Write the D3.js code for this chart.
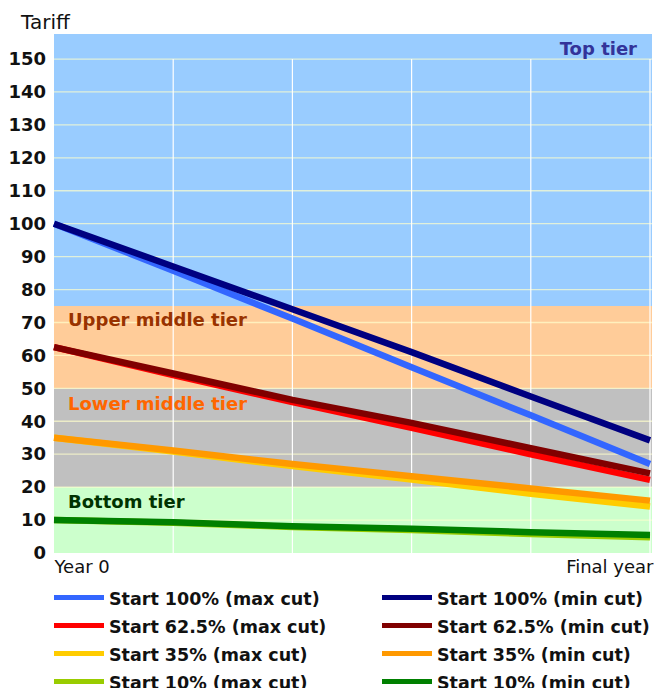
<!DOCTYPE html>
<html>
<head>
<meta charset="utf-8">
<script src="https://cdn.jsdelivr.net/npm/d3@7/dist/d3.min.js"></script>
<style>
  html, body { margin: 0; padding: 0; background: #fff; }
  svg { display: block; font-family: "DejaVu Sans", Verdana, sans-serif; }
</style>
</head>
<body>
<svg id="chart" width="654" height="688"></svg>
<script>
// ---- data ----
const steps = [0, 1, 2, 3, 4, 5];
const xLabels = ["Year 0", "Final year"];
const yTicks = [0, 10, 20, 30, 40, 50, 60, 70, 80, 90, 100, 110, 120, 130, 140, 150];
const yMax = 157.6;

const tierNames = ["Top tier", "Upper middle tier", "Lower middle tier", "Bottom tier"];
const tierLow = [75, 50, 20, 0];
const tierHigh = [yMax, 75, 50, 20];
const tierFill = ["#99CCFF", "#FFCC99", "#C0C0C0", "#CCFFCC"];
const tierTextColor = ["#333399", "#993300", "#FF6600", "#003300"];

const seriesNames = [
  "Start 100% (max cut)", "Start 100% (min cut)",
  "Start 62.5% (max cut)", "Start 62.5% (min cut)",
  "Start 35% (max cut)", "Start 35% (min cut)",
  "Start 10% (max cut)", "Start 10% (min cut)"
];
const seriesColors = [
  "#3366FF", "#000080",
  "#FF0000", "#800000",
  "#FFCC00", "#FF9900",
  "#99CC00", "#008000"
];
const start100Max = [100, 85.7, 71.2, 56.4, 41.8, 27.0];
const start100Min = [100, 87.0, 74.0, 61.0, 47.5, 34.2];
const start62Max  = [62.5, 54.0, 45.8, 38.0, 30.0, 22.2];
const start62Min  = [62.5, 54.5, 46.5, 39.5, 31.8, 24.2];
const start35Max  = [35, 30.8, 26.4, 22.3, 18.0, 14.1];
const start35Min  = [35, 31.1, 27.0, 23.3, 19.6, 15.9];
const start10Max  = [10, 9.2, 7.9, 7.0, 5.8, 4.8];
const start10Min  = [10, 9.3, 8.1, 7.4, 6.3, 5.5];
const seriesValues = [start100Max, start100Min, start62Max, start62Min,
                      start35Max, start35Min, start10Max, start10Min];

// ---- layout ----
const plotLeft = 54, plotRight = 652, plotTop = 34, plotBottom = 553;
const svg = d3.select("#chart");

const x = d3.scaleLinear().domain([0, 5]).range([plotLeft, 650]);
const y = d3.scaleLinear().domain([0, yMax]).range([plotBottom, plotTop]);

// bands
svg.append("g").selectAll("rect").data(tierNames).join("rect")
  .attr("x", plotLeft)
  .attr("width", plotRight - plotLeft)
  .attr("y", (d, i) => y(tierHigh[i]))
  .attr("height", (d, i) => y(tierLow[i]) - y(tierHigh[i]))
  .attr("fill", (d, i) => tierFill[i]);

// horizontal grid
svg.append("g").selectAll("line").data(yTicks.filter(t => t > 0)).join("line")
  .attr("x1", plotLeft).attr("x2", plotRight)
  .attr("y1", d => y(d)).attr("y2", d => y(d))
  .attr("stroke", "#FFFFCC").attr("stroke-opacity", 0.7).attr("stroke-width", 1.3);

// vertical grid
svg.append("g").selectAll("line").data(steps.filter(s => s > 0)).join("line")
  .attr("x1", d => x(d)).attr("x2", d => x(d))
  .attr("y1", y(150)).attr("y2", plotBottom)
  .attr("stroke", "#FFFFFF").attr("stroke-width", 1.2);

// tier labels
const tierLabelPos = [
  { x: 637, y: 55, anchor: "end" },
  { x: 68, y: 326, anchor: "start" },
  { x: 68, y: 410, anchor: "start" },
  { x: 68, y: 508, anchor: "start" }
];
svg.append("g").selectAll("text").data(tierNames).join("text")
  .attr("x", (d, i) => tierLabelPos[i].x)
  .attr("y", (d, i) => tierLabelPos[i].y)
  .attr("text-anchor", (d, i) => tierLabelPos[i].anchor)
  .attr("font-size", 18).attr("font-weight", "bold")
  .attr("fill", (d, i) => tierTextColor[i])
  .text(d => d);

// lines
const line = d3.line().x((d, i) => x(steps[i])).y(d => y(d));
svg.append("g").selectAll("path").data(seriesValues).join("path")
  .attr("d", d => line(d))
  .attr("fill", "none")
  .attr("stroke", (d, i) => seriesColors[i])
  .attr("stroke-width", 6.5)
  .attr("stroke-linejoin", "round");

// y axis
const yAxis = d3.axisLeft(y).tickValues(yTicks).tickSize(0).tickPadding(0);
const gy = svg.append("g").attr("transform", `translate(46,0)`).call(yAxis);
gy.select(".domain").remove();
gy.selectAll("text")
  .attr("font-family", '"DejaVu Sans", Verdana, sans-serif')
  .attr("font-size", 18).attr("font-weight", "bold").attr("fill", "#111");

// axis title
svg.append("text").attr("x", 21).attr("y", 29)
  .attr("font-size", 20).attr("fill", "#111").text("Tariff");

// x labels
const xAxis = d3.axisBottom(x).tickValues([0, 5]).tickSize(0).tickPadding(0)
  .tickFormat((d, i) => xLabels[i]);
const gx = svg.append("g").attr("transform", `translate(0,${plotBottom})`).call(xAxis);
gx.select(".domain").remove();
gx.selectAll("text")
  .attr("font-family", '"DejaVu Sans", Verdana, sans-serif')
  .attr("font-size", 18).attr("fill", "#111")
  .attr("dy", 0).attr("y", 19.5)
  .attr("text-anchor", (d, i) => i === 0 ? "start" : "end")
  .attr("dx", (d, i) => i === 0 ? 0 : 3);

// legend
const legendColX = [54, 382];
const legendRowY = [597.5, 625.5, 653.5, 681.5];
const leg = svg.append("g").selectAll("g").data(seriesNames).join("g")
  .attr("transform", (d, i) => `translate(${legendColX[i % 2]},${legendRowY[Math.floor(i / 2)]})`);
leg.append("line")
  .attr("x1", 0).attr("x2", 50).attr("y1", 0).attr("y2", 0)
  .attr("stroke", (d, i) => seriesColors[i]).attr("stroke-width", 5);
leg.append("text")
  .attr("x", 55).attr("y", 7.5)
  .attr("font-size", 17.5).attr("font-weight", "bold").attr("fill", "#111")
  .text(d => d);
</script>
</body>
</html>
